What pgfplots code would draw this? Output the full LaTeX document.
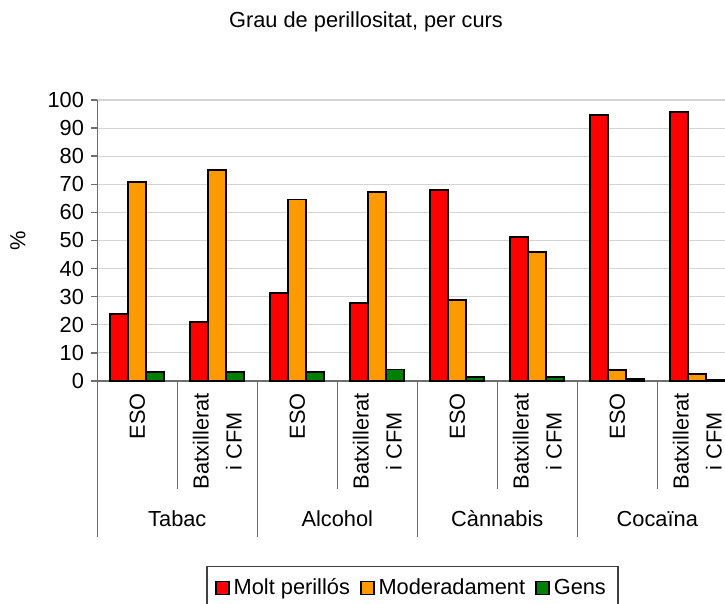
\documentclass[border=0pt]{standalone}
\usepackage{fontspec}
\setmainfont{Liberation Sans}
\usepackage{pgfplots}
\pgfplotsset{compat=1.18}

\definecolor{cRed}{HTML}{FF0000}
\definecolor{cOra}{HTML}{FF9900}
\definecolor{cGrn}{HTML}{008000}
\definecolor{cAxis}{HTML}{6E6E6E}
\definecolor{cGrid}{HTML}{D4D4D4}
\newcommand\chartfont{\fontsize{10.9pt}{14.5pt}\selectfont}

\begin{document}
\begin{tikzpicture}
\begin{axis}[
    scale only axis,
    width=320pt, height=140.5pt,
    ybar=0pt,
    bar width=9pt,
    xmin=-0.5, xmax=7.5,
    ymin=0, ymax=100,
    ytick distance=10,
    axis x line*=bottom,
    axis y line*=left,
    axis line style={cAxis, line width=0.7pt, -},
    ymajorgrids,
    grid style={cGrid, line width=0.55pt},
    tick align=outside,
    major tick length=3pt,
    tick style={cAxis, line width=0.7pt},
    xtick={0,...,7},
    x tick style={draw=none},
    xticklabels={ESO, {Batxillerat\\[2pt]i CFM}, ESO, {Batxillerat\\[2pt]i CFM},
                 ESO, {Batxillerat\\[2pt]i CFM}, ESO, {Batxillerat\\[2pt]i CFM}},
    xticklabel style={yshift=-3pt, rotate=90, anchor=east, align=center,
                      inner sep=0pt, font=\chartfont},
    yticklabel style={font=\chartfont, inner sep=0pt, xshift=-3.5pt},
    /pgf/number format/assume math mode=true,
    legend columns=3,
    legend style={font=\chartfont, at={(0.4925,0)}, anchor=north,
                  yshift=-92.5pt, draw=black!75, line width=0.6pt,
                  inner xsep=4pt, inner ysep=4pt,
                  /tikz/every even column/.append style={column sep=3pt}},
    legend image code/.code={%
        \draw[#1, draw=black, line width=0.8pt] (0pt,-3.2pt) rectangle (6.5pt,3.3pt);},
    every axis plot/.append style={draw=black, line width=0.95pt},
    clip=false,
]
\addplot[fill=cRed] coordinates {(0,24) (1,21.1) (2,31.2) (3,27.6) (4,68.1) (5,51.1) (6,94.5) (7,95.8)};
\addplot[fill=cOra] coordinates {(0,70.8) (1,75.1) (2,64.6) (3,67.4) (4,28.9) (5,46) (6,4) (7,2.6)};
\addplot[fill=cGrn] coordinates {(0,3.3) (1,3.3) (2,3.3) (3,4.1) (4,1.3) (5,1.3) (6,0.6) (7,0.5)};
\legend{Molt perillós, Moderadament, Gens}

\coordinate (O) at (rel axis cs:0,0);
% separators of the category axis
\draw[cAxis, line width=0.7pt] (axis cs:-0.5,0) -- ++(0pt,-78pt);
\draw[cAxis, line width=0.7pt] (axis cs:1.5,0) -- ++(0pt,-78pt);
\draw[cAxis, line width=0.7pt] (axis cs:3.5,0) -- ++(0pt,-78pt);
\draw[cAxis, line width=0.7pt] (axis cs:5.5,0) -- ++(0pt,-78pt);
\draw[cAxis, line width=0.7pt] (axis cs:7.5,0) -- ++(0pt,-78pt);
\draw[cAxis, line width=0.7pt] (axis cs:0.5,0) -- ++(0pt,-54pt);
\draw[cAxis, line width=0.7pt] (axis cs:2.5,0) -- ++(0pt,-54pt);
\draw[cAxis, line width=0.7pt] (axis cs:4.5,0) -- ++(0pt,-54pt);
\draw[cAxis, line width=0.7pt] (axis cs:6.5,0) -- ++(0pt,-54pt);
\node[font=\chartfont] at ([yshift=-69pt]axis cs:0.5,0) {Tabac};
\node[font=\chartfont] at ([yshift=-69pt]axis cs:2.5,0) {Alcohol};
\node[font=\chartfont] at ([yshift=-69pt]axis cs:4.5,0) {Cànnabis};
\node[font=\chartfont] at ([yshift=-69pt]axis cs:6.5,0) {Cocaïna};
\end{axis}
\node[font=\chartfont] at ([shift={(134.35pt,179.5pt)}]O) {Grau de perillositat, per curs};
\node[font=\chartfont, rotate=90] at ([shift={(-39.65pt,70.25pt)}]O) {\%};
\pgfresetboundingbox
\path[use as bounding box] ([shift={(-48.65pt,-111.5pt)}]O) rectangle ([shift={(313.85pt,190.5pt)}]O);
\end{tikzpicture}
\end{document}
